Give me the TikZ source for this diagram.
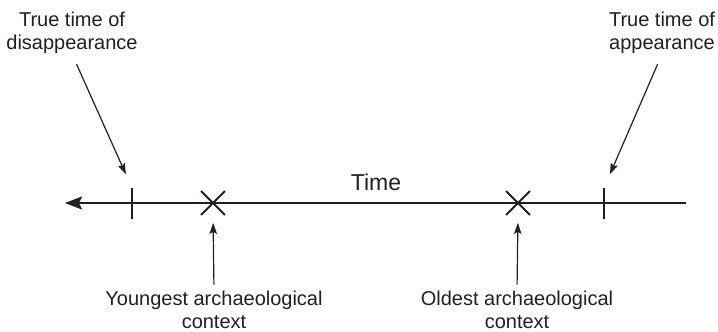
\documentclass[tikz,border=0pt]{standalone}
\usepackage{fontspec}
\setmainfont{Liberation Sans}
\usepackage{xcolor}
\usepackage{tikz}
\usetikzlibrary{arrows.meta,shapes.misc}
\definecolor{ink}{RGB}{35,31,32}

\begin{document}
\begin{tikzpicture}[x=1pt, y=-1pt, ink,
  every node/.style={inner sep=0pt, align=center, font=\fontsize{20}{23.5}\selectfont},
  crossmark/.style={cross out, draw, line width=1.8pt, minimum size=22pt},
  leader/.style={line width=1.2pt, -{Stealth[length=11pt, width=7.5pt, inset=2pt]}}]
\useasboundingbox (0,0) rectangle (718,332);

% Points
\coordinate (left) at (65,203);
\coordinate (right) at (686,203);
\coordinate (disT) at (132,203);
\coordinate (appT) at (604,203);
\node[crossmark] (young) at (213,203) {};
\node[crossmark] (old) at (518,203) {};

% Labels
\node[anchor=north] (dis) at (72,11.5) {True time of\\disappearance};
\node[anchor=north] (app) at (662,11.5) {True time of\\appearance};
\node[anchor=north] (yng) at (214,290.5) {Youngest archaeological\\context};
\node[anchor=north] (odst) at (517,290.5) {Oldest archaeological\\context};
\node[anchor=base, font=\fontsize{23}{27}\selectfont] (time) at (376,190) {Time};

%Lines
\draw[line width=2pt, -{Stealth[length=17pt, width=13pt, inset=3pt]}] (right) -- (left);
\draw[line width=1.8pt] ([yshift=15pt]disT) -- ([yshift=-16pt]disT);
\draw[line width=1.8pt] ([yshift=15pt]appT) -- ([yshift=-16pt]appT);
\draw[leader, shorten <=11pt, shorten >=15pt] (dis.south) -- ([yshift=15pt]disT);
\draw[leader, shorten <=11pt, shorten >=15pt] (app.south) -- ([yshift=15pt]appT);
\draw[leader, shorten <=6pt, shorten >=8pt] (yng.north) -- (young.south);
\draw[leader, shorten <=6pt, shorten >=8pt] (odst.north) -- (old.south);
\end{tikzpicture}
\end{document}
